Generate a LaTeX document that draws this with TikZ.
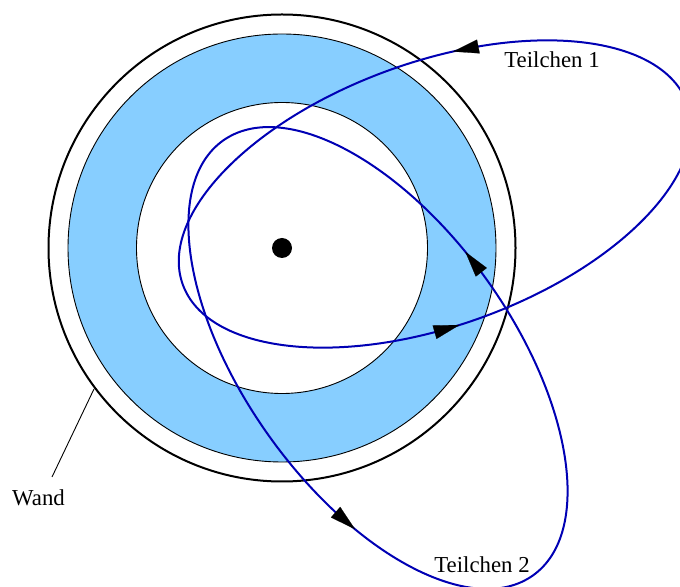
\documentclass[tikz,border=0pt]{standalone}
\usepackage{fontspec}
\setmainfont{Liberation Serif}
\usepackage{tikz}
\usetikzlibrary{arrows.meta}
\definecolor{ringfill}{RGB}{135,206,255}
\definecolor{orbitline}{RGB}{0,0,180}
\tikzset{
  wall/.style={
    draw=black,
    line width=1pt
  },
  ringedge/.style={
    draw=black,
    line width=0.45pt
  },
  orbit/.style={
    draw=orbitline,
    line width=1pt
  },
  flowtip/.style={draw=black, fill=black, line width=0.1pt, -{Triangle[length=13pt, width=7pt]}},
  lbl/.style={font=\fontsize{11.4}{13.5}\selectfont, inner sep=0pt, anchor=base},
  leader/.style={draw=black, line width=0.45pt}
}

\begin{document}
\begin{tikzpicture}[x=0.5pt, y=-0.5pt]
  \useasboundingbox (0,0) rectangle (680,587);
  \coordinate (ctr) at (282,248);

  \fill[ringfill, even odd rule] (ctr) circle[radius=214] (ctr) circle[radius=145.5];
  \draw[ringedge] (ctr) circle[radius=214];
  \draw[ringedge] (ctr) circle[radius=145.5];
  \draw[wall] (ctr) circle[radius=233.5];
  \fill[black] (ctr) circle[radius=10];

  \begin{scope}[shift={(435,194)}, rotate=19.7]
    \draw[orbit] (0,0) ellipse[x radius=268, y radius=132];
    \coordinate (t1tip) at (-76:268 and 132);
    \coordinate (t1base) at (-70.3:268 and 132);
    \coordinate (t2tip) at (94.5:268 and 132);
    \coordinate (t2base) at (100.1:268 and 132);
  \end{scope}
  \begin{scope}[shift={(378,358)}, rotate=-54.5]
    \draw[orbit] (0,0) ellipse[x radius=267, y radius=134];
    \coordinate (t3tip) at (-97.7:267 and 134);
    \coordinate (t3base) at (-92.1:267 and 134);
    \coordinate (t4tip) at (61.8:267 and 134);
    \coordinate (t4base) at (67.8:267 and 134);
  \end{scope}

  \draw[flowtip] (t1base) -- (t1tip);
  \draw[flowtip] (t2base) -- (t2tip);
  \draw[flowtip] (t3base) -- (t3tip);
  \draw[flowtip] (t4base) -- (t4tip);

  \node[lbl] (p1lbl) at (552,68) {Teilchen 1};
  \node[lbl] (p2lbl) at (482,572) {Teilchen 2};
  \node[lbl] (wandlbl) at (38.5,505) {Wand};
  \coordinate (wandtip) at (52,477);
  \coordinate (wallpt) at (94,389);
  \draw[leader] (wandtip) -- (wallpt);
\end{tikzpicture}
\end{document}
